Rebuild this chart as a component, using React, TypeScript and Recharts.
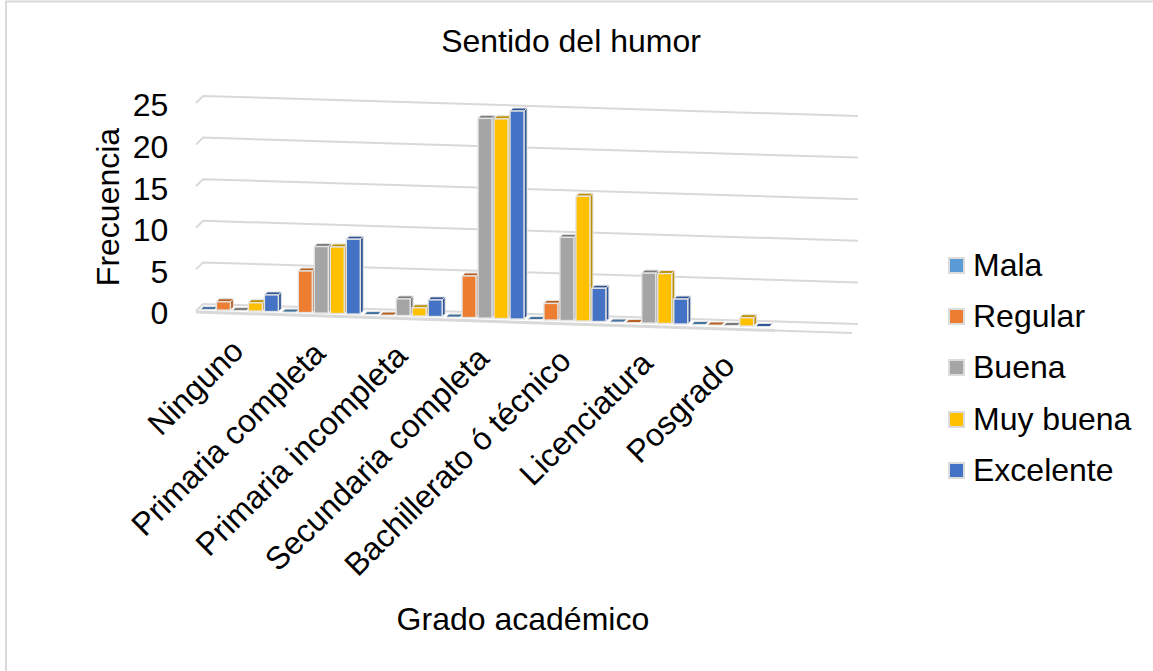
import { BarChart, Bar, XAxis, YAxis, CartesianGrid, Legend } from "recharts";

// the eighth row is blank in the sheet, that is why the plot runs on past Posgrado
const categories = [
  "Ninguno",
  "Primaria completa",
  "Primaria incompleta",
  "Secundaria completa",
  "Bachillerato ó técnico",
  "Licenciatura",
  "Posgrado",
  "",
];
const mala = [0, 0, 0, 0, 0, 0, 0, null];
const regular = [1, 5, 0, 5, 2, 0, 0, null];
const buena = [0, 8, 2, 24, 10, 6, 0, null];
const muyBuena = [1, 8, 1, 24, 15, 6, 1, null];
const excelente = [2, 9, 2, 25, 4, 3, 0, null];
const yTicks = [0, 5, 10, 15, 20, 25];

const data = categories.map((name, i) => ({
  name,
  mala: mala[i],
  regular: regular[i],
  buena: buena[i],
  muyBuena: muyBuena[i],
  excelente: excelente[i],
}));

const FONT = "'Liberation Sans', Arial, sans-serif";
const FONT_SIZE = 32;
const GRID = "#d9d9d9";
const SLOPE = 0.0304; // the whole floor tilts down to the right

const tilt = (x: number) => SLOPE * (x - 196) - 1.5;

function SkewBar(props: any) {
  const { x, y, width, height, value, fill, side } = props;
  if (value == null) return null;
  const dy = tilt(x);
  const left = x + 1;
  const w = width - 2;
  const top = y + dy;
  const d = 3;
  return (
    <g>
      {height > 0 && (
        <polygon
          points={`${left + w},${top} ${left + w + d},${top - d} ${left + w + d},${top + height - d} ${left + w},${top + height}`}
          fill={side}
          stroke="#e4e4e4"
          strokeWidth={1}
        />
      )}
      <polygon
        points={`${left},${top} ${left + d},${top - d} ${left + w + d},${top - d} ${left + w},${top}`}
        fill={side}
        stroke="#e4e4e4"
        strokeWidth={1}
      />
      {height > 0 && (
        <rect x={left} y={top} width={w} height={height} fill={fill} stroke="#e4e4e4" strokeWidth={1.4} />
      )}
    </g>
  );
}

function GridLine(props: any) {
  const { y1, index } = props;
  const isFloor = Math.abs(y1 - 311) < 1;
  return (
    <g key={index}>
      <polyline
        points={`196,${y1} 203,${y1 - 7} 858,${y1 + 13}`}
        fill="none"
        stroke={GRID}
        strokeWidth={2}
      />
      {isFloor && (
        <>
          <line x1={196} y1={312} x2={775} y2={330.5} stroke={GRID} strokeWidth={3} />
          <line x1={775} y1={330.5} x2={852} y2={333} stroke={GRID} strokeWidth={2} />
        </>
      )}
    </g>
  );
}

function CategoryTick(props: any) {
  const { x, y, payload } = props;
  const ty = y + tilt(x) + 28;
  return (
    <text
      x={x - 1}
      y={ty}
      transform={`rotate(-45 ${x - 1} ${ty})`}
      textAnchor="end"
      dominantBaseline="middle"
      fontFamily={FONT}
      fontSize={FONT_SIZE}
      fill="#000"
    >
      {payload.value}
    </text>
  );
}

function LegendBox(props: any) {
  return (
    <div>
      {props.payload.map((p: any) => (
        <div key={p.value} style={{ display: "flex", alignItems: "center", height: 51.2 }}>
          <span
            style={{
              width: 13,
              height: 13,
              background: p.color,
              border: "2px solid #dcdcdc",
              marginRight: 8,
              flex: "none",
            }}
          />
          <span style={{ fontFamily: FONT, fontSize: FONT_SIZE, color: "#000", whiteSpace: "nowrap" }}>{p.value}</span>
        </div>
      ))}
    </div>
  );
}

export default function App() {
  return (
    <div style={{ position: "absolute", left: 0, top: 0, width: 1153, height: 671, background: "#fff" }}>
      <BarChart
        width={1153}
        height={671}
        data={data}
        barGap={0}
        barCategoryGap={0}
        margin={{ top: 103, right: 93.6, bottom: 30, left: 0 }}
      >
        <polyline points="6,671 6,1.5 1153,1.5" fill="none" stroke="#d9d9d9" strokeWidth={2} />
        <text x={571} y={44} textAnchor="middle" dominantBaseline="middle" fontFamily={FONT} fontSize={FONT_SIZE} fill="#000">
          Sentido del humor
        </text>
        <CartesianGrid vertical={false} horizontal={GridLine} />
        <XAxis
          dataKey="name"
          height={330}
          interval={0}
          axisLine={false}
          tickLine={false}
          tick={CategoryTick}
          label={{
            value: "Grado académico",
            position: "insideBottom",
            dx: -4,
            offset: 11,
            style: { fontFamily: FONT, fontSize: FONT_SIZE, fill: "#000" },
          }}
        />
        <YAxis
          width={199.4}
          domain={[0, 25]}
          ticks={yTicks}
          interval={0}
          axisLine={false}
          tickLine={false}
          tickSize={0}
          tickMargin={31}
          dy={2}
          tick={{ fontFamily: FONT, fontSize: FONT_SIZE, fill: "#000" }}
          label={{
            value: "Frecuencia",
            angle: -90,
            position: "insideLeft",
            offset: 108,
            style: { textAnchor: "middle", fontFamily: FONT, fontSize: FONT_SIZE, fill: "#000" },
          }}
        />
        <Legend
          layout="vertical"
          align="right"
          verticalAlign="middle"
          width={205}
          itemSorter={null}
          content={LegendBox}
          wrapperStyle={{ left: 948, top: 240, right: "auto", bottom: "auto" }}
        />
        <Bar dataKey="mala" name="Mala" fill="#5B9BD5" isAnimationActive={false} shape={(p: any) => <SkewBar {...p} side="#41719C" />} />
        <Bar dataKey="regular" name="Regular" fill="#ED7D31" isAnimationActive={false} shape={(p: any) => <SkewBar {...p} side="#B85F24" />} />
        <Bar dataKey="buena" name="Buena" fill="#A5A5A5" isAnimationActive={false} shape={(p: any) => <SkewBar {...p} side="#7B7B7B" />} />
        <Bar dataKey="muyBuena" name="Muy buena" fill="#FFC000" isAnimationActive={false} shape={(p: any) => <SkewBar {...p} side="#BF9000" />} />
        <Bar dataKey="excelente" name="Excelente" fill="#4472C4" isAnimationActive={false} shape={(p: any) => <SkewBar {...p} side="#2F5597" />} />
      </BarChart>
    </div>
  );
}
